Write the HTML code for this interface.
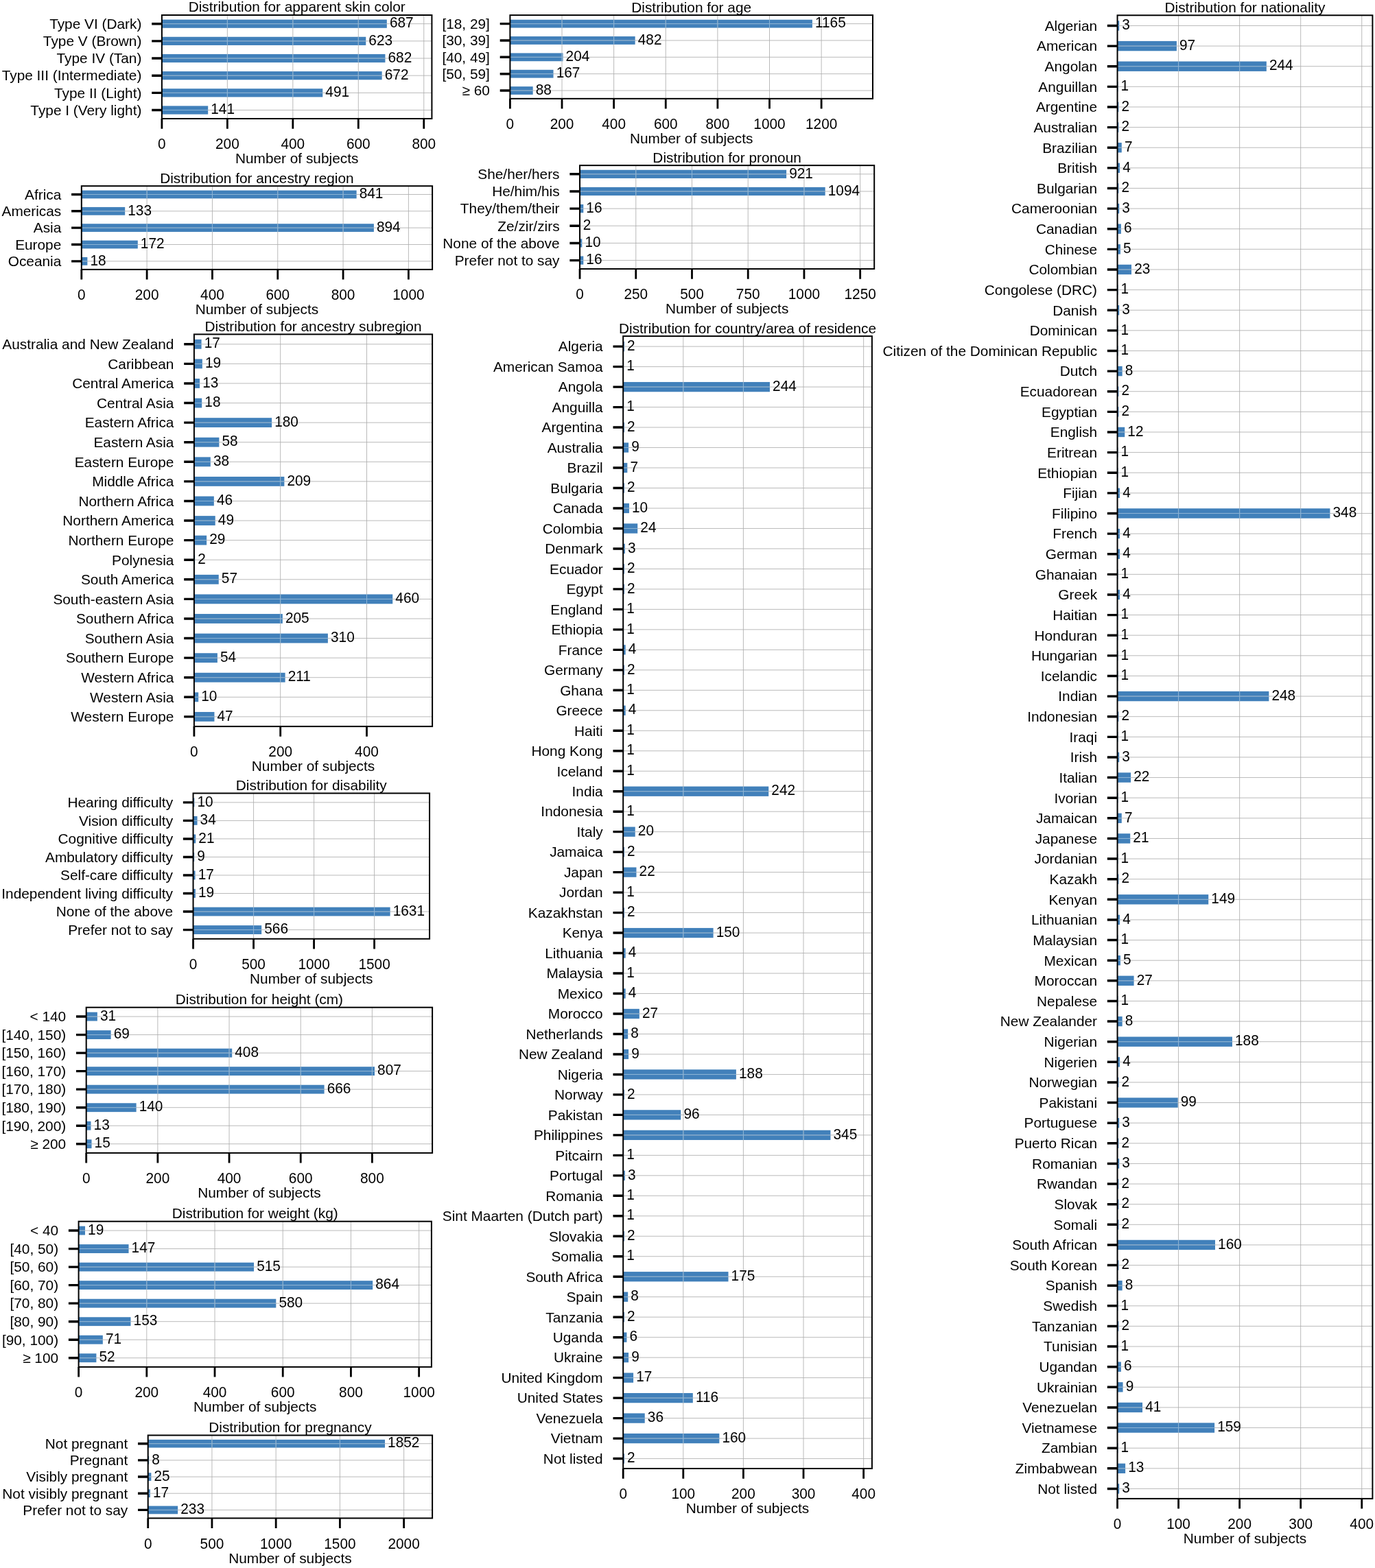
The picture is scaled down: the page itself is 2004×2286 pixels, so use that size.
<!DOCTYPE html>
<html lang="en">
<head>
<meta charset="utf-8">
<title>Distribution of subject attributes</title>
<style>
html,body{margin:0;padding:0;background:#fff;}
body{width:2004px;height:2286px;}
svg{display:block;}
text{font-family:"Liberation Sans",sans-serif;font-size:20.83px;fill:#000;}
.ylab text{text-anchor:end;}
.xlab text{text-anchor:middle;}
.grid{fill:none;stroke:#aeaeae;stroke-width:0.85;}
.gridbar{fill:none;stroke:#86b6de;stroke-width:0.85;}
.tick{fill:none;stroke:#000;stroke-width:3.4;}
.xtick{fill:none;stroke:#000;stroke-width:2.8;}
.spine{fill:none;stroke:#000;stroke-width:2.0;}
</style>
</head>
<body>
<svg width="2004" height="2286" viewBox="0 0 2004 2286">
<rect width="2004" height="2286" fill="#fff"/>

<g class="chart">
<g class="bars" fill="#4180ba">
<rect x="235.9" y="28.58" width="327.92" height="12.21"/>
<rect x="235.9" y="53.75" width="297.37" height="12.21"/>
<rect x="235.9" y="78.91" width="325.53" height="12.21"/>
<rect x="235.9" y="104.08" width="320.76" height="12.21"/>
<rect x="235.9" y="129.25" width="234.36" height="12.21"/>
<rect x="235.9" y="154.41" width="67.3" height="12.21"/>
</g>
<path class="grid" d="M331.36 22V173M426.83 22V173M522.29 22V173M617.75 22V173M235.9 34.68H629.4M235.9 59.85H629.4M235.9 85.02H629.4M235.9 110.18H629.4M235.9 135.35H629.4M235.9 160.52H629.4"/>
<path class="gridbar" d="M235.9 34.68H563.82M331.36 28.58V40.79M426.83 28.58V40.79M522.29 28.58V40.79M235.9 59.85H533.27M331.36 53.75V65.95M426.83 53.75V65.95M522.29 53.75V65.95M235.9 85.02H561.43M331.36 78.91V91.12M426.83 78.91V91.12M522.29 78.91V91.12M235.9 110.18H556.66M331.36 104.08V116.29M426.83 104.08V116.29M522.29 104.08V116.29M235.9 135.35H470.26M331.36 129.25V141.45M426.83 129.25V141.45M235.9 160.52H303.2"/>
<path class="xtick" d="M235.9 173v14.7M331.36 173v14.7M426.83 173v14.7M522.29 173v14.7M617.75 173v14.7"/>
<path class="tick" d="M235.9 34.68h-14.7M235.9 59.85h-14.7M235.9 85.02h-14.7M235.9 110.18h-14.7M235.9 135.35h-14.7M235.9 160.52h-14.7"/>
<rect class="spine" x="235.9" y="22" width="393.5" height="151"/>
<g class="val" transform="scale(1,1.03)">
<text x="567.92" y="39.21">687</text>
<text x="537.37" y="63.64">623</text>
<text x="565.53" y="88.07">682</text>
<text x="560.76" y="112.51">672</text>
<text x="474.36" y="136.94">491</text>
<text x="307.3" y="161.38">141</text>
</g>
<g class="ylab">
<text x="206.4" y="41.98">Type VI (Dark)</text>
<text x="206.4" y="67.15">Type V (Brown)</text>
<text x="206.4" y="92.32">Type IV (Tan)</text>
<text x="206.4" y="117.48">Type III (Intermediate)</text>
<text x="206.4" y="142.65">Type II (Light)</text>
<text x="206.4" y="167.82">Type I (Very light)</text>
</g>
<g class="xlab" transform="scale(1,1.03)">
<text x="235.9" y="211.07">0</text>
<text x="331.36" y="211.07">200</text>
<text x="426.83" y="211.07">400</text>
<text x="522.29" y="211.07">600</text>
<text x="617.75" y="211.07">800</text>
</g>
<g class="xlab">
<text x="432.65" y="238.3">Number of subjects</text>
<text x="432.65" y="17.4">Distribution for apparent skin color</text>
</g>
</g>
<g class="chart">
<g class="bars" fill="#4180ba">
<rect x="118.8" y="277.57" width="400.82" height="11.8"/>
<rect x="118.8" y="301.91" width="63.39" height="11.8"/>
<rect x="118.8" y="326.25" width="426.08" height="11.8"/>
<rect x="118.8" y="350.59" width="81.98" height="11.8"/>
<rect x="118.8" y="374.93" width="8.58" height="11.8"/>
</g>
<path class="grid" d="M214.12 271.2V392.9M309.44 271.2V392.9M404.76 271.2V392.9M500.08 271.2V392.9M595.4 271.2V392.9M118.8 283.47H630.1M118.8 307.81H630.1M118.8 332.15H630.1M118.8 356.49H630.1M118.8 380.83H630.1"/>
<path class="gridbar" d="M118.8 283.47H519.62M214.12 277.57V289.37M309.44 277.57V289.37M404.76 277.57V289.37M500.08 277.57V289.37M118.8 307.81H182.19M118.8 332.15H544.88M214.12 326.25V338.05M309.44 326.25V338.05M404.76 326.25V338.05M500.08 326.25V338.05M118.8 356.49H200.78M118.8 380.83H127.38"/>
<path class="xtick" d="M118.8 392.9v14.7M214.12 392.9v14.7M309.44 392.9v14.7M404.76 392.9v14.7M500.08 392.9v14.7M595.4 392.9v14.7"/>
<path class="tick" d="M118.8 283.47h-14.7M118.8 307.81h-14.7M118.8 332.15h-14.7M118.8 356.49h-14.7M118.8 380.83h-14.7"/>
<rect class="spine" x="118.8" y="271.2" width="511.3" height="121.7"/>
<g class="val" transform="scale(1,1.03)">
<text x="523.72" y="280.75">841</text>
<text x="186.29" y="304.38">133</text>
<text x="548.98" y="328.01">894</text>
<text x="204.88" y="351.64">172</text>
<text x="131.48" y="375.27">18</text>
</g>
<g class="ylab">
<text x="89.3" y="290.77">Africa</text>
<text x="89.3" y="315.11">Americas</text>
<text x="89.3" y="339.45">Asia</text>
<text x="89.3" y="363.79">Europe</text>
<text x="89.3" y="388.13">Oceania</text>
</g>
<g class="xlab" transform="scale(1,1.03)">
<text x="118.8" y="424.56">0</text>
<text x="214.12" y="424.56">200</text>
<text x="309.44" y="424.56">400</text>
<text x="404.76" y="424.56">600</text>
<text x="500.08" y="424.56">800</text>
<text x="595.4" y="424.56">1000</text>
</g>
<g class="xlab">
<text x="374.45" y="458.2">Number of subjects</text>
<text x="374.45" y="266.6">Distribution for ancestry region</text>
</g>
</g>
<g class="chart">
<g class="bars" fill="#4180ba">
<rect x="743.4" y="28.72" width="440.5" height="11.81"/>
<rect x="743.4" y="53.07" width="182.25" height="11.81"/>
<rect x="743.4" y="77.42" width="77.13" height="11.81"/>
<rect x="743.4" y="101.77" width="63.14" height="11.81"/>
<rect x="743.4" y="126.12" width="33.27" height="11.81"/>
</g>
<path class="grid" d="M819.02 22.1V143.85M894.64 22.1V143.85M970.27 22.1V143.85M1045.89 22.1V143.85M1121.51 22.1V143.85M1197.13 22.1V143.85M743.4 34.63H1272M743.4 58.98H1272M743.4 83.32H1272M743.4 107.68H1272M743.4 132.03H1272"/>
<path class="gridbar" d="M743.4 34.63H1183.9M819.02 28.72V40.53M894.64 28.72V40.53M970.27 28.72V40.53M1045.89 28.72V40.53M1121.51 28.72V40.53M743.4 58.98H925.65M819.02 53.07V64.88M894.64 53.07V64.88M743.4 83.32H820.53M819.02 77.42V89.23M743.4 107.68H806.54M743.4 132.03H776.67"/>
<path class="xtick" d="M743.4 143.85v14.7M819.02 143.85v14.7M894.64 143.85v14.7M970.27 143.85v14.7M1045.89 143.85v14.7M1121.51 143.85v14.7M1197.13 143.85v14.7"/>
<path class="tick" d="M743.4 34.63h-14.7M743.4 58.98h-14.7M743.4 83.32h-14.7M743.4 107.68h-14.7M743.4 132.03h-14.7"/>
<rect class="spine" x="743.4" y="22.1" width="528.6" height="121.75"/>
<g class="val" transform="scale(1,1.03)">
<text x="1188" y="39.15">1165</text>
<text x="929.75" y="62.79">482</text>
<text x="824.63" y="86.43">204</text>
<text x="810.64" y="110.07">167</text>
<text x="780.77" y="133.71">88</text>
</g>
<g class="ylab">
<text x="713.9" y="41.93">[18, 29]</text>
<text x="713.9" y="66.28">[30, 39]</text>
<text x="713.9" y="90.62">[40, 49]</text>
<text x="713.9" y="114.98">[50, 59]</text>
<text x="713.9" y="139.33">≥ 60</text>
</g>
<g class="xlab" transform="scale(1,1.03)">
<text x="743.4" y="182.77">0</text>
<text x="819.02" y="182.77">200</text>
<text x="894.64" y="182.77">400</text>
<text x="970.27" y="182.77">600</text>
<text x="1045.89" y="182.77">800</text>
<text x="1121.51" y="182.77">1000</text>
<text x="1197.13" y="182.77">1200</text>
</g>
<g class="xlab">
<text x="1007.7" y="209.15">Number of subjects</text>
<text x="1007.7" y="17.5">Distribution for age</text>
</g>
</g>
<g class="chart">
<g class="bars" fill="#4180ba">
<rect x="845.05" y="247.73" width="301.07" height="12.2"/>
<rect x="845.05" y="272.88" width="357.63" height="12.2"/>
<rect x="845.05" y="298.03" width="5.23" height="12.2"/>
<rect x="845.05" y="323.18" width="0.65" height="12.2"/>
<rect x="845.05" y="348.33" width="3.27" height="12.2"/>
<rect x="845.05" y="373.48" width="5.23" height="12.2"/>
</g>
<path class="grid" d="M926.77 241.15V392.05M1008.5 241.15V392.05M1090.22 241.15V392.05M1171.95 241.15V392.05M1253.67 241.15V392.05M845.05 253.82H1274.2M845.05 278.98H1274.2M845.05 304.13H1274.2M845.05 329.28H1274.2M845.05 354.43H1274.2M845.05 379.58H1274.2"/>
<path class="gridbar" d="M845.05 253.82H1146.12M926.77 247.73V259.92M1008.5 247.73V259.92M1090.22 247.73V259.92M845.05 278.98H1202.68M926.77 272.88V285.07M1008.5 272.88V285.07M1090.22 272.88V285.07M1171.95 272.88V285.07M845.05 304.13H850.28M845.05 329.28H845.7M845.05 354.43H848.32M845.05 379.58H850.28"/>
<path class="xtick" d="M845.05 392.05v14.7M926.77 392.05v14.7M1008.5 392.05v14.7M1090.22 392.05v14.7M1171.95 392.05v14.7M1253.67 392.05v14.7"/>
<path class="tick" d="M845.05 253.82h-14.7M845.05 278.98h-14.7M845.05 304.13h-14.7M845.05 329.28h-14.7M845.05 354.43h-14.7M845.05 379.58h-14.7"/>
<rect class="spine" x="845.05" y="241.15" width="429.15" height="150.9"/>
<g class="val" transform="scale(1,1.03)">
<text x="1150.22" y="251.97">921</text>
<text x="1206.78" y="276.38">1094</text>
<text x="854.38" y="300.8">16</text>
<text x="849.8" y="325.22">2</text>
<text x="852.42" y="349.64">10</text>
<text x="854.38" y="374.05">16</text>
</g>
<g class="ylab">
<text x="815.55" y="261.12">She/her/hers</text>
<text x="815.55" y="286.28">He/him/his</text>
<text x="815.55" y="311.43">They/them/their</text>
<text x="815.55" y="336.58">Ze/zir/zirs</text>
<text x="815.55" y="361.73">None of the above</text>
<text x="815.55" y="386.88">Prefer not to say</text>
</g>
<g class="xlab" transform="scale(1,1.03)">
<text x="845.05" y="423.74">0</text>
<text x="926.77" y="423.74">250</text>
<text x="1008.5" y="423.74">500</text>
<text x="1090.22" y="423.74">750</text>
<text x="1171.95" y="423.74">1000</text>
<text x="1253.67" y="423.74">1250</text>
</g>
<g class="xlab">
<text x="1059.62" y="457.35">Number of subjects</text>
<text x="1059.62" y="236.55">Distribution for pronoun</text>
</g>
</g>
<g class="chart">
<g class="bars" fill="#4180ba">
<rect x="282.9" y="494.86" width="10.69" height="13.86"/>
<rect x="282.9" y="523.45" width="11.95" height="13.86"/>
<rect x="282.9" y="552.03" width="8.18" height="13.86"/>
<rect x="282.9" y="580.62" width="11.32" height="13.86"/>
<rect x="282.9" y="609.2" width="113.22" height="13.86"/>
<rect x="282.9" y="637.79" width="36.48" height="13.86"/>
<rect x="282.9" y="666.37" width="23.9" height="13.86"/>
<rect x="282.9" y="694.96" width="131.46" height="13.86"/>
<rect x="282.9" y="723.54" width="28.93" height="13.86"/>
<rect x="282.9" y="752.13" width="30.82" height="13.86"/>
<rect x="282.9" y="780.71" width="18.24" height="13.86"/>
<rect x="282.9" y="809.3" width="1.26" height="13.86"/>
<rect x="282.9" y="837.88" width="35.85" height="13.86"/>
<rect x="282.9" y="866.47" width="289.33" height="13.86"/>
<rect x="282.9" y="895.05" width="128.94" height="13.86"/>
<rect x="282.9" y="923.64" width="194.99" height="13.86"/>
<rect x="282.9" y="952.22" width="33.97" height="13.86"/>
<rect x="282.9" y="980.81" width="132.72" height="13.86"/>
<rect x="282.9" y="1009.39" width="6.29" height="13.86"/>
<rect x="282.9" y="1037.98" width="29.56" height="13.86"/>
</g>
<path class="grid" d="M408.7 487.4V1059.1M534.49 487.4V1059.1M282.9 501.79H630.1M282.9 530.38H630.1M282.9 558.96H630.1M282.9 587.55H630.1M282.9 616.13H630.1M282.9 644.72H630.1M282.9 673.3H630.1M282.9 701.89H630.1M282.9 730.47H630.1M282.9 759.06H630.1M282.9 787.64H630.1M282.9 816.23H630.1M282.9 844.81H630.1M282.9 873.4H630.1M282.9 901.98H630.1M282.9 930.57H630.1M282.9 959.15H630.1M282.9 987.74H630.1M282.9 1016.32H630.1M282.9 1044.91H630.1"/>
<path class="gridbar" d="M282.9 501.79H293.59M282.9 530.38H294.85M282.9 558.96H291.08M282.9 587.55H294.22M282.9 616.13H396.12M282.9 644.72H319.38M282.9 673.3H306.8M282.9 701.89H414.36M408.7 694.96V708.82M282.9 730.47H311.83M282.9 759.06H313.72M282.9 787.64H301.14M282.9 816.23H284.16M282.9 844.81H318.75M282.9 873.4H572.23M408.7 866.47V880.33M534.49 866.47V880.33M282.9 901.98H411.84M408.7 895.05V908.91M282.9 930.57H477.89M408.7 923.64V937.5M282.9 959.15H316.87M282.9 987.74H415.62M408.7 980.81V994.67M282.9 1016.32H289.19M282.9 1044.91H312.46"/>
<path class="xtick" d="M282.9 1059.1v14.7M408.7 1059.1v14.7M534.49 1059.1v14.7"/>
<path class="tick" d="M282.9 501.79h-14.7M282.9 530.38h-14.7M282.9 558.96h-14.7M282.9 587.55h-14.7M282.9 616.13h-14.7M282.9 644.72h-14.7M282.9 673.3h-14.7M282.9 701.89h-14.7M282.9 730.47h-14.7M282.9 759.06h-14.7M282.9 787.64h-14.7M282.9 816.23h-14.7M282.9 844.81h-14.7M282.9 873.4h-14.7M282.9 901.98h-14.7M282.9 930.57h-14.7M282.9 959.15h-14.7M282.9 987.74h-14.7M282.9 1016.32h-14.7M282.9 1044.91h-14.7"/>
<rect class="spine" x="282.9" y="487.4" width="347.2" height="571.7"/>
<g class="val" transform="scale(1,1.03)">
<text x="297.69" y="492.71">17</text>
<text x="298.95" y="520.46">19</text>
<text x="295.18" y="548.22">13</text>
<text x="298.32" y="575.97">18</text>
<text x="400.22" y="603.72">180</text>
<text x="323.48" y="631.47">58</text>
<text x="310.9" y="659.23">38</text>
<text x="418.46" y="686.98">209</text>
<text x="315.93" y="714.73">46</text>
<text x="317.82" y="742.48">49</text>
<text x="305.24" y="770.24">29</text>
<text x="288.26" y="797.99">2</text>
<text x="322.85" y="825.74">57</text>
<text x="576.33" y="853.49">460</text>
<text x="415.94" y="881.25">205</text>
<text x="481.99" y="909">310</text>
<text x="320.97" y="936.75">54</text>
<text x="419.72" y="964.5">211</text>
<text x="293.29" y="992.25">10</text>
<text x="316.56" y="1020.01">47</text>
</g>
<g class="ylab">
<text x="253.4" y="509.09">Australia and New Zealand</text>
<text x="253.4" y="537.68">Caribbean</text>
<text x="253.4" y="566.26">Central America</text>
<text x="253.4" y="594.85">Central Asia</text>
<text x="253.4" y="623.43">Eastern Africa</text>
<text x="253.4" y="652.02">Eastern Asia</text>
<text x="253.4" y="680.6">Eastern Europe</text>
<text x="253.4" y="709.19">Middle Africa</text>
<text x="253.4" y="737.77">Northern Africa</text>
<text x="253.4" y="766.36">Northern America</text>
<text x="253.4" y="794.94">Northern Europe</text>
<text x="253.4" y="823.53">Polynesia</text>
<text x="253.4" y="852.11">South America</text>
<text x="253.4" y="880.7">South-eastern Asia</text>
<text x="253.4" y="909.28">Southern Africa</text>
<text x="253.4" y="937.87">Southern Asia</text>
<text x="253.4" y="966.45">Southern Europe</text>
<text x="253.4" y="995.04">Western Africa</text>
<text x="253.4" y="1023.62">Western Asia</text>
<text x="253.4" y="1052.21">Western Europe</text>
</g>
<g class="xlab" transform="scale(1,1.03)">
<text x="282.9" y="1071.36">0</text>
<text x="408.7" y="1071.36">200</text>
<text x="534.49" y="1071.36">400</text>
</g>
<g class="xlab">
<text x="456.5" y="1124.4">Number of subjects</text>
<text x="456.5" y="482.8">Distribution for ancestry subregion</text>
</g>
</g>
<g class="chart">
<g class="bars" fill="#4180ba">
<rect x="281.55" y="1163.43" width="1.76" height="12.87"/>
<rect x="281.55" y="1189.96" width="5.98" height="12.87"/>
<rect x="281.55" y="1216.49" width="3.7" height="12.87"/>
<rect x="281.55" y="1243.03" width="1.58" height="12.87"/>
<rect x="281.55" y="1269.56" width="2.99" height="12.87"/>
<rect x="281.55" y="1296.09" width="3.34" height="12.87"/>
<rect x="281.55" y="1322.62" width="287.08" height="12.87"/>
<rect x="281.55" y="1349.15" width="99.63" height="12.87"/>
</g>
<path class="grid" d="M369.56 1156.5V1368.75M457.57 1156.5V1368.75M545.58 1156.5V1368.75M281.55 1169.87H626.05M281.55 1196.4H626.05M281.55 1222.93H626.05M281.55 1249.46H626.05M281.55 1275.99H626.05M281.55 1302.52H626.05M281.55 1329.05H626.05M281.55 1355.58H626.05"/>
<path class="gridbar" d="M281.55 1169.87H283.31M281.55 1196.4H287.53M281.55 1222.93H285.25M281.55 1249.46H283.13M281.55 1275.99H284.54M281.55 1302.52H284.89M281.55 1329.05H568.63M369.56 1322.62V1335.49M457.57 1322.62V1335.49M545.58 1322.62V1335.49M281.55 1355.58H381.18M369.56 1349.15V1362.02"/>
<path class="xtick" d="M281.55 1368.75v14.7M369.56 1368.75v14.7M457.57 1368.75v14.7M545.58 1368.75v14.7"/>
<path class="tick" d="M281.55 1169.87h-14.7M281.55 1196.4h-14.7M281.55 1222.93h-14.7M281.55 1249.46h-14.7M281.55 1275.99h-14.7M281.55 1302.52h-14.7M281.55 1329.05h-14.7M281.55 1355.58h-14.7"/>
<rect class="spine" x="281.55" y="1156.5" width="344.5" height="212.25"/>
<g class="val" transform="scale(1,1.03)">
<text x="287.41" y="1141.33">10</text>
<text x="291.63" y="1167.08">34</text>
<text x="289.35" y="1192.84">21</text>
<text x="287.23" y="1218.6">9</text>
<text x="288.64" y="1244.36">17</text>
<text x="288.99" y="1270.12">19</text>
<text x="572.73" y="1295.88">1631</text>
<text x="385.28" y="1321.64">566</text>
</g>
<g class="ylab">
<text x="252.05" y="1177.17">Hearing difficulty</text>
<text x="252.05" y="1203.7">Vision difficulty</text>
<text x="252.05" y="1230.23">Cognitive difficulty</text>
<text x="252.05" y="1256.76">Ambulatory difficulty</text>
<text x="252.05" y="1283.29">Self-care difficulty</text>
<text x="252.05" y="1309.82">Independent living difficulty</text>
<text x="252.05" y="1336.35">None of the above</text>
<text x="252.05" y="1362.88">Prefer not to say</text>
</g>
<g class="xlab" transform="scale(1,1.03)">
<text x="281.55" y="1371.99">0</text>
<text x="369.56" y="1371.99">500</text>
<text x="457.57" y="1371.99">1000</text>
<text x="545.58" y="1371.99">1500</text>
</g>
<g class="xlab">
<text x="453.8" y="1434.05">Number of subjects</text>
<text x="453.8" y="1151.9">Distribution for disability</text>
</g>
</g>
<g class="chart">
<g class="bars" fill="#4180ba">
<rect x="125.7" y="1475.63" width="16.15" height="12.86"/>
<rect x="125.7" y="1502.16" width="35.94" height="12.86"/>
<rect x="125.7" y="1528.68" width="212.51" height="12.86"/>
<rect x="125.7" y="1555.21" width="420.33" height="12.86"/>
<rect x="125.7" y="1581.73" width="346.89" height="12.86"/>
<rect x="125.7" y="1608.26" width="72.92" height="12.86"/>
<rect x="125.7" y="1634.78" width="6.77" height="12.86"/>
<rect x="125.7" y="1661.31" width="7.81" height="12.86"/>
</g>
<path class="grid" d="M229.87 1468.7V1680.9M334.04 1468.7V1680.9M438.22 1468.7V1680.9M542.39 1468.7V1680.9M125.7 1482.06H630.1M125.7 1508.59H630.1M125.7 1535.11H630.1M125.7 1561.64H630.1M125.7 1588.16H630.1M125.7 1614.69H630.1M125.7 1641.21H630.1M125.7 1667.74H630.1"/>
<path class="gridbar" d="M125.7 1482.06H141.85M125.7 1508.59H161.64M125.7 1535.11H338.21M229.87 1528.68V1541.54M334.04 1528.68V1541.54M125.7 1561.64H546.03M229.87 1555.21V1568.07M334.04 1555.21V1568.07M438.22 1555.21V1568.07M542.39 1555.21V1568.07M125.7 1588.16H472.59M229.87 1581.73V1594.59M334.04 1581.73V1594.59M438.22 1581.73V1594.59M125.7 1614.69H198.62M125.7 1641.21H132.47M125.7 1667.74H133.51"/>
<path class="xtick" d="M125.7 1680.9v14.7M229.87 1680.9v14.7M334.04 1680.9v14.7M438.22 1680.9v14.7M542.39 1680.9v14.7"/>
<path class="tick" d="M125.7 1482.06h-14.7M125.7 1508.59h-14.7M125.7 1535.11h-14.7M125.7 1561.64h-14.7M125.7 1588.16h-14.7M125.7 1614.69h-14.7M125.7 1641.21h-14.7M125.7 1667.74h-14.7"/>
<rect class="spine" x="125.7" y="1468.7" width="504.4" height="212.2"/>
<g class="val" transform="scale(1,1.03)">
<text x="145.95" y="1444.43">31</text>
<text x="165.74" y="1470.18">69</text>
<text x="342.31" y="1495.93">408</text>
<text x="550.13" y="1521.69">807</text>
<text x="476.69" y="1547.44">666</text>
<text x="202.72" y="1573.19">140</text>
<text x="136.57" y="1598.94">13</text>
<text x="137.61" y="1624.7">15</text>
</g>
<g class="ylab">
<text x="96.2" y="1489.36">&lt; 140</text>
<text x="96.2" y="1515.89">[140, 150)</text>
<text x="96.2" y="1542.41">[150, 160)</text>
<text x="96.2" y="1568.94">[160, 170)</text>
<text x="96.2" y="1595.46">[170, 180)</text>
<text x="96.2" y="1621.99">[180, 190)</text>
<text x="96.2" y="1648.51">[190, 200)</text>
<text x="96.2" y="1675.04">≥ 200</text>
</g>
<g class="xlab" transform="scale(1,1.03)">
<text x="125.7" y="1675.05">0</text>
<text x="229.87" y="1675.05">200</text>
<text x="334.04" y="1675.05">400</text>
<text x="438.22" y="1675.05">600</text>
<text x="542.39" y="1675.05">800</text>
</g>
<g class="xlab">
<text x="377.9" y="1746.2">Number of subjects</text>
<text x="377.9" y="1464.1">Distribution for height (cm)</text>
</g>
</g>
<g class="chart">
<g class="bars" fill="#4180ba">
<rect x="114.6" y="1787.63" width="9.42" height="12.86"/>
<rect x="114.6" y="1814.16" width="72.92" height="12.86"/>
<rect x="114.6" y="1840.68" width="255.46" height="12.86"/>
<rect x="114.6" y="1867.21" width="428.58" height="12.86"/>
<rect x="114.6" y="1893.73" width="287.71" height="12.86"/>
<rect x="114.6" y="1920.26" width="75.89" height="12.86"/>
<rect x="114.6" y="1946.78" width="35.22" height="12.86"/>
<rect x="114.6" y="1973.31" width="25.79" height="12.86"/>
</g>
<path class="grid" d="M213.81 1780.7V1992.9M313.02 1780.7V1992.9M412.23 1780.7V1992.9M511.44 1780.7V1992.9M610.65 1780.7V1992.9M114.6 1794.06H628.9M114.6 1820.59H628.9M114.6 1847.11H628.9M114.6 1873.64H628.9M114.6 1900.16H628.9M114.6 1926.69H628.9M114.6 1953.21H628.9M114.6 1979.74H628.9"/>
<path class="gridbar" d="M114.6 1794.06H124.02M114.6 1820.59H187.52M114.6 1847.11H370.06M213.81 1840.68V1853.54M313.02 1840.68V1853.54M114.6 1873.64H543.18M213.81 1867.21V1880.07M313.02 1867.21V1880.07M412.23 1867.21V1880.07M511.44 1867.21V1880.07M114.6 1900.16H402.31M213.81 1893.73V1906.59M313.02 1893.73V1906.59M114.6 1926.69H190.49M114.6 1953.21H149.82M114.6 1979.74H140.39"/>
<path class="xtick" d="M114.6 1992.9v14.7M213.81 1992.9v14.7M313.02 1992.9v14.7M412.23 1992.9v14.7M511.44 1992.9v14.7M610.65 1992.9v14.7"/>
<path class="tick" d="M114.6 1794.06h-14.7M114.6 1820.59h-14.7M114.6 1847.11h-14.7M114.6 1873.64h-14.7M114.6 1900.16h-14.7M114.6 1926.69h-14.7M114.6 1953.21h-14.7M114.6 1979.74h-14.7"/>
<rect class="spine" x="114.6" y="1780.7" width="514.3" height="212.2"/>
<g class="val" transform="scale(1,1.03)">
<text x="128.12" y="1747.34">19</text>
<text x="191.62" y="1773.09">147</text>
<text x="374.16" y="1798.85">515</text>
<text x="547.28" y="1824.6">864</text>
<text x="406.41" y="1850.35">580</text>
<text x="194.59" y="1876.1">153</text>
<text x="153.92" y="1901.86">71</text>
<text x="144.49" y="1927.61">52</text>
</g>
<g class="ylab">
<text x="85.1" y="1801.36">&lt; 40</text>
<text x="85.1" y="1827.89">[40, 50)</text>
<text x="85.1" y="1854.41">[50, 60)</text>
<text x="85.1" y="1880.94">[60, 70)</text>
<text x="85.1" y="1907.46">[70, 80)</text>
<text x="85.1" y="1933.99">[80, 90)</text>
<text x="85.1" y="1960.51">[90, 100)</text>
<text x="85.1" y="1987.04">≥ 100</text>
</g>
<g class="xlab" transform="scale(1,1.03)">
<text x="114.6" y="1977.96">0</text>
<text x="213.81" y="1977.96">200</text>
<text x="313.02" y="1977.96">400</text>
<text x="412.23" y="1977.96">600</text>
<text x="511.44" y="1977.96">800</text>
<text x="610.65" y="1977.96">1000</text>
</g>
<g class="xlab">
<text x="371.75" y="2058.2">Number of subjects</text>
<text x="371.75" y="1776.1">Distribution for weight (kg)</text>
</g>
</g>
<g class="chart">
<g class="bars" fill="#4180ba">
<rect x="215.7" y="2098.83" width="345.33" height="11.73"/>
<rect x="215.7" y="2123.01" width="1.49" height="11.73"/>
<rect x="215.7" y="2147.19" width="4.66" height="11.73"/>
<rect x="215.7" y="2171.37" width="3.17" height="11.73"/>
<rect x="215.7" y="2195.55" width="43.45" height="11.73"/>
</g>
<path class="grid" d="M308.93 2092.5V2213.4M402.17 2092.5V2213.4M495.4 2092.5V2213.4M588.63 2092.5V2213.4M215.7 2104.69H630.1M215.7 2128.87H630.1M215.7 2153.05H630.1M215.7 2177.23H630.1M215.7 2201.41H630.1"/>
<path class="gridbar" d="M215.7 2104.69H561.03M308.93 2098.83V2110.55M402.17 2098.83V2110.55M495.4 2098.83V2110.55M215.7 2128.87H217.19M215.7 2153.05H220.36M215.7 2177.23H218.87M215.7 2201.41H259.15"/>
<path class="xtick" d="M215.7 2213.4v14.7M308.93 2213.4v14.7M402.17 2213.4v14.7M495.4 2213.4v14.7M588.63 2213.4v14.7"/>
<path class="tick" d="M215.7 2104.69h-14.7M215.7 2128.87h-14.7M215.7 2153.05h-14.7M215.7 2177.23h-14.7M215.7 2201.41h-14.7"/>
<rect class="spine" x="215.7" y="2092.5" width="414.4" height="120.9"/>
<g class="val" transform="scale(1,1.03)">
<text x="565.13" y="2048.92">1852</text>
<text x="221.29" y="2072.4">8</text>
<text x="224.46" y="2095.87">25</text>
<text x="222.97" y="2119.35">17</text>
<text x="263.25" y="2142.83">233</text>
</g>
<g class="ylab">
<text x="186.2" y="2111.99">Not pregnant</text>
<text x="186.2" y="2136.17">Pregnant</text>
<text x="186.2" y="2160.35">Visibly pregnant</text>
<text x="186.2" y="2184.53">Not visibly pregnant</text>
<text x="186.2" y="2208.71">Prefer not to say</text>
</g>
<g class="xlab" transform="scale(1,1.03)">
<text x="215.7" y="2192.04">0</text>
<text x="308.93" y="2192.04">500</text>
<text x="402.17" y="2192.04">1000</text>
<text x="495.4" y="2192.04">1500</text>
<text x="588.63" y="2192.04">2000</text>
</g>
<g class="xlab">
<text x="422.9" y="2278.7">Number of subjects</text>
<text x="422.9" y="2087.9">Distribution for pregnancy</text>
</g>
</g>
<g class="chart">
<g class="bars" fill="#4180ba">
<rect x="908.2" y="497.99" width="1.75" height="14.3"/>
<rect x="908.2" y="527.47" width="0.88" height="14.3"/>
<rect x="908.2" y="556.95" width="213.77" height="14.3"/>
<rect x="908.2" y="586.43" width="0.88" height="14.3"/>
<rect x="908.2" y="615.91" width="1.75" height="14.3"/>
<rect x="908.2" y="645.39" width="7.88" height="14.3"/>
<rect x="908.2" y="674.87" width="6.13" height="14.3"/>
<rect x="908.2" y="704.35" width="1.75" height="14.3"/>
<rect x="908.2" y="733.83" width="8.76" height="14.3"/>
<rect x="908.2" y="763.31" width="21.03" height="14.3"/>
<rect x="908.2" y="792.79" width="2.63" height="14.3"/>
<rect x="908.2" y="822.28" width="1.75" height="14.3"/>
<rect x="908.2" y="851.76" width="1.75" height="14.3"/>
<rect x="908.2" y="881.24" width="0.88" height="14.3"/>
<rect x="908.2" y="910.72" width="0.88" height="14.3"/>
<rect x="908.2" y="940.2" width="3.5" height="14.3"/>
<rect x="908.2" y="969.68" width="1.75" height="14.3"/>
<rect x="908.2" y="999.16" width="0.88" height="14.3"/>
<rect x="908.2" y="1028.64" width="3.5" height="14.3"/>
<rect x="908.2" y="1058.12" width="0.88" height="14.3"/>
<rect x="908.2" y="1087.6" width="0.88" height="14.3"/>
<rect x="908.2" y="1117.08" width="0.88" height="14.3"/>
<rect x="908.2" y="1146.56" width="212.01" height="14.3"/>
<rect x="908.2" y="1176.04" width="0.88" height="14.3"/>
<rect x="908.2" y="1205.52" width="17.52" height="14.3"/>
<rect x="908.2" y="1235" width="1.75" height="14.3"/>
<rect x="908.2" y="1264.48" width="19.27" height="14.3"/>
<rect x="908.2" y="1293.96" width="0.88" height="14.3"/>
<rect x="908.2" y="1323.44" width="1.75" height="14.3"/>
<rect x="908.2" y="1352.92" width="131.41" height="14.3"/>
<rect x="908.2" y="1382.4" width="3.5" height="14.3"/>
<rect x="908.2" y="1411.88" width="0.88" height="14.3"/>
<rect x="908.2" y="1441.36" width="3.5" height="14.3"/>
<rect x="908.2" y="1470.84" width="23.65" height="14.3"/>
<rect x="908.2" y="1500.32" width="7.01" height="14.3"/>
<rect x="908.2" y="1529.8" width="7.88" height="14.3"/>
<rect x="908.2" y="1559.28" width="164.7" height="14.3"/>
<rect x="908.2" y="1588.76" width="1.75" height="14.3"/>
<rect x="908.2" y="1618.24" width="84.1" height="14.3"/>
<rect x="908.2" y="1647.73" width="302.25" height="14.3"/>
<rect x="908.2" y="1677.21" width="0.88" height="14.3"/>
<rect x="908.2" y="1706.69" width="2.63" height="14.3"/>
<rect x="908.2" y="1736.17" width="0.88" height="14.3"/>
<rect x="908.2" y="1765.65" width="0.88" height="14.3"/>
<rect x="908.2" y="1795.13" width="1.75" height="14.3"/>
<rect x="908.2" y="1824.61" width="0.88" height="14.3"/>
<rect x="908.2" y="1854.09" width="153.32" height="14.3"/>
<rect x="908.2" y="1883.57" width="7.01" height="14.3"/>
<rect x="908.2" y="1913.05" width="1.75" height="14.3"/>
<rect x="908.2" y="1942.53" width="5.26" height="14.3"/>
<rect x="908.2" y="1972.01" width="7.88" height="14.3"/>
<rect x="908.2" y="2001.49" width="14.89" height="14.3"/>
<rect x="908.2" y="2030.97" width="101.63" height="14.3"/>
<rect x="908.2" y="2060.45" width="31.54" height="14.3"/>
<rect x="908.2" y="2089.93" width="140.17" height="14.3"/>
<rect x="908.2" y="2119.41" width="1.75" height="14.3"/>
</g>
<path class="grid" d="M995.81 490.1V2141M1083.42 490.1V2141M1171.03 490.1V2141M1258.63 490.1V2141M908.2 505.14H1270.9M908.2 534.62H1270.9M908.2 564.1H1270.9M908.2 593.58H1270.9M908.2 623.06H1270.9M908.2 652.54H1270.9M908.2 682.02H1270.9M908.2 711.5H1270.9M908.2 740.98H1270.9M908.2 770.46H1270.9M908.2 799.94H1270.9M908.2 829.42H1270.9M908.2 858.9H1270.9M908.2 888.38H1270.9M908.2 917.87H1270.9M908.2 947.35H1270.9M908.2 976.83H1270.9M908.2 1006.31H1270.9M908.2 1035.79H1270.9M908.2 1065.27H1270.9M908.2 1094.75H1270.9M908.2 1124.23H1270.9M908.2 1153.71H1270.9M908.2 1183.19H1270.9M908.2 1212.67H1270.9M908.2 1242.15H1270.9M908.2 1271.63H1270.9M908.2 1301.11H1270.9M908.2 1330.59H1270.9M908.2 1360.07H1270.9M908.2 1389.55H1270.9M908.2 1419.03H1270.9M908.2 1448.51H1270.9M908.2 1477.99H1270.9M908.2 1507.47H1270.9M908.2 1536.95H1270.9M908.2 1566.43H1270.9M908.2 1595.91H1270.9M908.2 1625.39H1270.9M908.2 1654.87H1270.9M908.2 1684.35H1270.9M908.2 1713.83H1270.9M908.2 1743.32H1270.9M908.2 1772.8H1270.9M908.2 1802.28H1270.9M908.2 1831.76H1270.9M908.2 1861.24H1270.9M908.2 1890.72H1270.9M908.2 1920.2H1270.9M908.2 1949.68H1270.9M908.2 1979.16H1270.9M908.2 2008.64H1270.9M908.2 2038.12H1270.9M908.2 2067.6H1270.9M908.2 2097.08H1270.9M908.2 2126.56H1270.9"/>
<path class="gridbar" d="M908.2 505.14H909.95M908.2 534.62H909.08M908.2 564.1H1121.97M995.81 556.95V571.25M1083.42 556.95V571.25M908.2 593.58H909.08M908.2 623.06H909.95M908.2 652.54H916.08M908.2 682.02H914.33M908.2 711.5H909.95M908.2 740.98H916.96M908.2 770.46H929.23M908.2 799.94H910.83M908.2 829.42H909.95M908.2 858.9H909.95M908.2 888.38H909.08M908.2 917.87H909.08M908.2 947.35H911.7M908.2 976.83H909.95M908.2 1006.31H909.08M908.2 1035.79H911.7M908.2 1065.27H909.08M908.2 1094.75H909.08M908.2 1124.23H909.08M908.2 1153.71H1120.21M995.81 1146.56V1160.86M1083.42 1146.56V1160.86M908.2 1183.19H909.08M908.2 1212.67H925.72M908.2 1242.15H909.95M908.2 1271.63H927.47M908.2 1301.11H909.08M908.2 1330.59H909.95M908.2 1360.07H1039.61M995.81 1352.92V1367.22M908.2 1389.55H911.7M908.2 1419.03H909.08M908.2 1448.51H911.7M908.2 1477.99H931.85M908.2 1507.47H915.21M908.2 1536.95H916.08M908.2 1566.43H1072.9M995.81 1559.28V1573.58M908.2 1595.91H909.95M908.2 1625.39H992.3M908.2 1654.87H1210.45M995.81 1647.73V1662.02M1083.42 1647.73V1662.02M1171.03 1647.73V1662.02M908.2 1684.35H909.08M908.2 1713.83H910.83M908.2 1743.32H909.08M908.2 1772.8H909.08M908.2 1802.28H909.95M908.2 1831.76H909.08M908.2 1861.24H1061.52M995.81 1854.09V1868.39M908.2 1890.72H915.21M908.2 1920.2H909.95M908.2 1949.68H913.46M908.2 1979.16H916.08M908.2 2008.64H923.09M908.2 2038.12H1009.83M995.81 2030.97V2045.27M908.2 2067.6H939.74M908.2 2097.08H1048.37M995.81 2089.93V2104.23M908.2 2126.56H909.95"/>
<path class="xtick" d="M908.2 2141v14.7M995.81 2141v14.7M1083.42 2141v14.7M1171.03 2141v14.7M1258.63 2141v14.7"/>
<path class="tick" d="M908.2 505.14h-14.7M908.2 534.62h-14.7M908.2 564.1h-14.7M908.2 593.58h-14.7M908.2 623.06h-14.7M908.2 652.54h-14.7M908.2 682.02h-14.7M908.2 711.5h-14.7M908.2 740.98h-14.7M908.2 770.46h-14.7M908.2 799.94h-14.7M908.2 829.42h-14.7M908.2 858.9h-14.7M908.2 888.38h-14.7M908.2 917.87h-14.7M908.2 947.35h-14.7M908.2 976.83h-14.7M908.2 1006.31h-14.7M908.2 1035.79h-14.7M908.2 1065.27h-14.7M908.2 1094.75h-14.7M908.2 1124.23h-14.7M908.2 1153.71h-14.7M908.2 1183.19h-14.7M908.2 1212.67h-14.7M908.2 1242.15h-14.7M908.2 1271.63h-14.7M908.2 1301.11h-14.7M908.2 1330.59h-14.7M908.2 1360.07h-14.7M908.2 1389.55h-14.7M908.2 1419.03h-14.7M908.2 1448.51h-14.7M908.2 1477.99h-14.7M908.2 1507.47h-14.7M908.2 1536.95h-14.7M908.2 1566.43h-14.7M908.2 1595.91h-14.7M908.2 1625.39h-14.7M908.2 1654.87h-14.7M908.2 1684.35h-14.7M908.2 1713.83h-14.7M908.2 1743.32h-14.7M908.2 1772.8h-14.7M908.2 1802.28h-14.7M908.2 1831.76h-14.7M908.2 1861.24h-14.7M908.2 1890.72h-14.7M908.2 1920.2h-14.7M908.2 1949.68h-14.7M908.2 1979.16h-14.7M908.2 2008.64h-14.7M908.2 2038.12h-14.7M908.2 2067.6h-14.7M908.2 2097.08h-14.7M908.2 2126.56h-14.7"/>
<rect class="spine" x="908.2" y="490.1" width="362.7" height="1650.9"/>
<g class="val" transform="scale(1,1.03)">
<text x="914.05" y="495.96">2</text>
<text x="913.18" y="524.58">1</text>
<text x="1126.07" y="553.2">244</text>
<text x="913.18" y="581.83">1</text>
<text x="914.05" y="610.45">2</text>
<text x="920.18" y="639.07">9</text>
<text x="918.43" y="667.69">7</text>
<text x="914.05" y="696.31">2</text>
<text x="921.06" y="724.93">10</text>
<text x="933.33" y="753.56">24</text>
<text x="914.93" y="782.18">3</text>
<text x="914.05" y="810.8">2</text>
<text x="914.05" y="839.42">2</text>
<text x="913.18" y="868.04">1</text>
<text x="913.18" y="896.67">1</text>
<text x="915.8" y="925.29">4</text>
<text x="914.05" y="953.91">2</text>
<text x="913.18" y="982.53">1</text>
<text x="915.8" y="1011.15">4</text>
<text x="913.18" y="1039.77">1</text>
<text x="913.18" y="1068.4">1</text>
<text x="913.18" y="1097.02">1</text>
<text x="1124.31" y="1125.64">242</text>
<text x="913.18" y="1154.26">1</text>
<text x="929.82" y="1182.88">20</text>
<text x="914.05" y="1211.5">2</text>
<text x="931.57" y="1240.13">22</text>
<text x="913.18" y="1268.75">1</text>
<text x="914.05" y="1297.37">2</text>
<text x="1043.71" y="1325.99">150</text>
<text x="915.8" y="1354.61">4</text>
<text x="913.18" y="1383.23">1</text>
<text x="915.8" y="1411.86">4</text>
<text x="935.95" y="1440.48">27</text>
<text x="919.31" y="1469.1">8</text>
<text x="920.18" y="1497.72">9</text>
<text x="1077" y="1526.34">188</text>
<text x="914.05" y="1554.96">2</text>
<text x="996.4" y="1583.59">96</text>
<text x="1214.55" y="1612.21">345</text>
<text x="913.18" y="1640.83">1</text>
<text x="914.93" y="1669.45">3</text>
<text x="913.18" y="1698.07">1</text>
<text x="913.18" y="1726.69">1</text>
<text x="914.05" y="1755.32">2</text>
<text x="913.18" y="1783.94">1</text>
<text x="1065.62" y="1812.56">175</text>
<text x="919.31" y="1841.18">8</text>
<text x="914.05" y="1869.8">2</text>
<text x="917.56" y="1898.42">6</text>
<text x="920.18" y="1927.05">9</text>
<text x="927.19" y="1955.67">17</text>
<text x="1013.93" y="1984.29">116</text>
<text x="943.84" y="2012.91">36</text>
<text x="1052.47" y="2041.53">160</text>
<text x="914.05" y="2070.16">2</text>
</g>
<g class="ylab">
<text x="878.7" y="512.44">Algeria</text>
<text x="878.7" y="541.92">American Samoa</text>
<text x="878.7" y="571.4">Angola</text>
<text x="878.7" y="600.88">Anguilla</text>
<text x="878.7" y="630.36">Argentina</text>
<text x="878.7" y="659.84">Australia</text>
<text x="878.7" y="689.32">Brazil</text>
<text x="878.7" y="718.8">Bulgaria</text>
<text x="878.7" y="748.28">Canada</text>
<text x="878.7" y="777.76">Colombia</text>
<text x="878.7" y="807.24">Denmark</text>
<text x="878.7" y="836.72">Ecuador</text>
<text x="878.7" y="866.2">Egypt</text>
<text x="878.7" y="895.68">England</text>
<text x="878.7" y="925.17">Ethiopia</text>
<text x="878.7" y="954.65">France</text>
<text x="878.7" y="984.13">Germany</text>
<text x="878.7" y="1013.61">Ghana</text>
<text x="878.7" y="1043.09">Greece</text>
<text x="878.7" y="1072.57">Haiti</text>
<text x="878.7" y="1102.05">Hong Kong</text>
<text x="878.7" y="1131.53">Iceland</text>
<text x="878.7" y="1161.01">India</text>
<text x="878.7" y="1190.49">Indonesia</text>
<text x="878.7" y="1219.97">Italy</text>
<text x="878.7" y="1249.45">Jamaica</text>
<text x="878.7" y="1278.93">Japan</text>
<text x="878.7" y="1308.41">Jordan</text>
<text x="878.7" y="1337.89">Kazakhstan</text>
<text x="878.7" y="1367.37">Kenya</text>
<text x="878.7" y="1396.85">Lithuania</text>
<text x="878.7" y="1426.33">Malaysia</text>
<text x="878.7" y="1455.81">Mexico</text>
<text x="878.7" y="1485.29">Morocco</text>
<text x="878.7" y="1514.77">Netherlands</text>
<text x="878.7" y="1544.25">New Zealand</text>
<text x="878.7" y="1573.73">Nigeria</text>
<text x="878.7" y="1603.21">Norway</text>
<text x="878.7" y="1632.69">Pakistan</text>
<text x="878.7" y="1662.17">Philippines</text>
<text x="878.7" y="1691.65">Pitcairn</text>
<text x="878.7" y="1721.13">Portugal</text>
<text x="878.7" y="1750.62">Romania</text>
<text x="878.7" y="1780.1">Sint Maarten (Dutch part)</text>
<text x="878.7" y="1809.58">Slovakia</text>
<text x="878.7" y="1839.06">Somalia</text>
<text x="878.7" y="1868.54">South Africa</text>
<text x="878.7" y="1898.02">Spain</text>
<text x="878.7" y="1927.5">Tanzania</text>
<text x="878.7" y="1956.98">Uganda</text>
<text x="878.7" y="1986.46">Ukraine</text>
<text x="878.7" y="2015.94">United Kingdom</text>
<text x="878.7" y="2045.42">United States</text>
<text x="878.7" y="2074.9">Venezuela</text>
<text x="878.7" y="2104.38">Vietnam</text>
<text x="878.7" y="2133.86">Not listed</text>
</g>
<g class="xlab" transform="scale(1,1.03)">
<text x="908.2" y="2121.75">0</text>
<text x="995.81" y="2121.75">100</text>
<text x="1083.42" y="2121.75">200</text>
<text x="1171.03" y="2121.75">300</text>
<text x="1258.63" y="2121.75">400</text>
</g>
<g class="xlab">
<text x="1089.55" y="2206.3">Number of subjects</text>
<text x="1089.55" y="485.5">Distribution for country/area of residence</text>
</g>
</g>
<g class="chart">
<g class="bars" fill="#4180ba">
<rect x="1628.55" y="30.28" width="2.67" height="14.37"/>
<rect x="1628.55" y="59.9" width="86.37" height="14.37"/>
<rect x="1628.55" y="89.53" width="217.27" height="14.37"/>
<rect x="1628.55" y="119.15" width="0.89" height="14.37"/>
<rect x="1628.55" y="148.78" width="1.78" height="14.37"/>
<rect x="1628.55" y="178.4" width="1.78" height="14.37"/>
<rect x="1628.55" y="208.03" width="6.23" height="14.37"/>
<rect x="1628.55" y="237.65" width="3.56" height="14.37"/>
<rect x="1628.55" y="267.28" width="1.78" height="14.37"/>
<rect x="1628.55" y="296.9" width="2.67" height="14.37"/>
<rect x="1628.55" y="326.52" width="5.34" height="14.37"/>
<rect x="1628.55" y="356.15" width="4.45" height="14.37"/>
<rect x="1628.55" y="385.77" width="20.48" height="14.37"/>
<rect x="1628.55" y="415.4" width="0.89" height="14.37"/>
<rect x="1628.55" y="445.02" width="2.67" height="14.37"/>
<rect x="1628.55" y="474.65" width="0.89" height="14.37"/>
<rect x="1628.55" y="504.27" width="0.89" height="14.37"/>
<rect x="1628.55" y="533.9" width="7.12" height="14.37"/>
<rect x="1628.55" y="563.52" width="1.78" height="14.37"/>
<rect x="1628.55" y="593.15" width="1.78" height="14.37"/>
<rect x="1628.55" y="622.77" width="10.69" height="14.37"/>
<rect x="1628.55" y="652.4" width="0.89" height="14.37"/>
<rect x="1628.55" y="682.02" width="0.89" height="14.37"/>
<rect x="1628.55" y="711.65" width="3.56" height="14.37"/>
<rect x="1628.55" y="741.27" width="309.88" height="14.37"/>
<rect x="1628.55" y="770.89" width="3.56" height="14.37"/>
<rect x="1628.55" y="800.52" width="3.56" height="14.37"/>
<rect x="1628.55" y="830.14" width="0.89" height="14.37"/>
<rect x="1628.55" y="859.77" width="3.56" height="14.37"/>
<rect x="1628.55" y="889.39" width="0.89" height="14.37"/>
<rect x="1628.55" y="919.02" width="0.89" height="14.37"/>
<rect x="1628.55" y="948.64" width="0.89" height="14.37"/>
<rect x="1628.55" y="978.27" width="0.89" height="14.37"/>
<rect x="1628.55" y="1007.89" width="220.83" height="14.37"/>
<rect x="1628.55" y="1037.52" width="1.78" height="14.37"/>
<rect x="1628.55" y="1067.14" width="0.89" height="14.37"/>
<rect x="1628.55" y="1096.77" width="2.67" height="14.37"/>
<rect x="1628.55" y="1126.39" width="19.59" height="14.37"/>
<rect x="1628.55" y="1156.02" width="0.89" height="14.37"/>
<rect x="1628.55" y="1185.64" width="6.23" height="14.37"/>
<rect x="1628.55" y="1215.26" width="18.7" height="14.37"/>
<rect x="1628.55" y="1244.89" width="0.89" height="14.37"/>
<rect x="1628.55" y="1274.51" width="1.78" height="14.37"/>
<rect x="1628.55" y="1304.14" width="132.68" height="14.37"/>
<rect x="1628.55" y="1333.76" width="3.56" height="14.37"/>
<rect x="1628.55" y="1363.39" width="0.89" height="14.37"/>
<rect x="1628.55" y="1393.01" width="4.45" height="14.37"/>
<rect x="1628.55" y="1422.64" width="24.04" height="14.37"/>
<rect x="1628.55" y="1452.26" width="0.89" height="14.37"/>
<rect x="1628.55" y="1481.89" width="7.12" height="14.37"/>
<rect x="1628.55" y="1511.51" width="167.4" height="14.37"/>
<rect x="1628.55" y="1541.14" width="3.56" height="14.37"/>
<rect x="1628.55" y="1570.76" width="1.78" height="14.37"/>
<rect x="1628.55" y="1600.39" width="88.15" height="14.37"/>
<rect x="1628.55" y="1630.01" width="2.67" height="14.37"/>
<rect x="1628.55" y="1659.63" width="1.78" height="14.37"/>
<rect x="1628.55" y="1689.26" width="2.67" height="14.37"/>
<rect x="1628.55" y="1718.88" width="1.78" height="14.37"/>
<rect x="1628.55" y="1748.51" width="1.78" height="14.37"/>
<rect x="1628.55" y="1778.13" width="1.78" height="14.37"/>
<rect x="1628.55" y="1807.76" width="142.47" height="14.37"/>
<rect x="1628.55" y="1837.38" width="1.78" height="14.37"/>
<rect x="1628.55" y="1867.01" width="7.12" height="14.37"/>
<rect x="1628.55" y="1896.63" width="0.89" height="14.37"/>
<rect x="1628.55" y="1926.26" width="1.78" height="14.37"/>
<rect x="1628.55" y="1955.88" width="0.89" height="14.37"/>
<rect x="1628.55" y="1985.51" width="5.34" height="14.37"/>
<rect x="1628.55" y="2015.13" width="8.01" height="14.37"/>
<rect x="1628.55" y="2044.76" width="36.51" height="14.37"/>
<rect x="1628.55" y="2074.38" width="141.58" height="14.37"/>
<rect x="1628.55" y="2104" width="0.89" height="14.37"/>
<rect x="1628.55" y="2133.63" width="11.58" height="14.37"/>
<rect x="1628.55" y="2163.25" width="2.67" height="14.37"/>
</g>
<path class="grid" d="M1717.59 22.3V2184.9M1806.64 22.3V2184.9M1895.68 22.3V2184.9M1984.73 22.3V2184.9M1628.55 37.46H2000.4M1628.55 67.09H2000.4M1628.55 96.71H2000.4M1628.55 126.34H2000.4M1628.55 155.96H2000.4M1628.55 185.59H2000.4M1628.55 215.21H2000.4M1628.55 244.83H2000.4M1628.55 274.46H2000.4M1628.55 304.08H2000.4M1628.55 333.71H2000.4M1628.55 363.33H2000.4M1628.55 392.96H2000.4M1628.55 422.58H2000.4M1628.55 452.21H2000.4M1628.55 481.83H2000.4M1628.55 511.46H2000.4M1628.55 541.08H2000.4M1628.55 570.71H2000.4M1628.55 600.33H2000.4M1628.55 629.96H2000.4M1628.55 659.58H2000.4M1628.55 689.2H2000.4M1628.55 718.83H2000.4M1628.55 748.45H2000.4M1628.55 778.08H2000.4M1628.55 807.7H2000.4M1628.55 837.33H2000.4M1628.55 866.95H2000.4M1628.55 896.58H2000.4M1628.55 926.2H2000.4M1628.55 955.83H2000.4M1628.55 985.45H2000.4M1628.55 1015.08H2000.4M1628.55 1044.7H2000.4M1628.55 1074.33H2000.4M1628.55 1103.95H2000.4M1628.55 1133.57H2000.4M1628.55 1163.2H2000.4M1628.55 1192.82H2000.4M1628.55 1222.45H2000.4M1628.55 1252.07H2000.4M1628.55 1281.7H2000.4M1628.55 1311.32H2000.4M1628.55 1340.95H2000.4M1628.55 1370.57H2000.4M1628.55 1400.2H2000.4M1628.55 1429.82H2000.4M1628.55 1459.45H2000.4M1628.55 1489.07H2000.4M1628.55 1518.7H2000.4M1628.55 1548.32H2000.4M1628.55 1577.94H2000.4M1628.55 1607.57H2000.4M1628.55 1637.19H2000.4M1628.55 1666.82H2000.4M1628.55 1696.44H2000.4M1628.55 1726.07H2000.4M1628.55 1755.69H2000.4M1628.55 1785.32H2000.4M1628.55 1814.94H2000.4M1628.55 1844.57H2000.4M1628.55 1874.19H2000.4M1628.55 1903.82H2000.4M1628.55 1933.44H2000.4M1628.55 1963.07H2000.4M1628.55 1992.69H2000.4M1628.55 2022.31H2000.4M1628.55 2051.94H2000.4M1628.55 2081.56H2000.4M1628.55 2111.19H2000.4M1628.55 2140.81H2000.4M1628.55 2170.44H2000.4"/>
<path class="gridbar" d="M1628.55 37.46H1631.22M1628.55 67.09H1714.92M1628.55 96.71H1845.82M1717.59 89.53V103.9M1806.64 89.53V103.9M1628.55 126.34H1629.44M1628.55 155.96H1630.33M1628.55 185.59H1630.33M1628.55 215.21H1634.78M1628.55 244.83H1632.11M1628.55 274.46H1630.33M1628.55 304.08H1631.22M1628.55 333.71H1633.89M1628.55 363.33H1633M1628.55 392.96H1649.03M1628.55 422.58H1629.44M1628.55 452.21H1631.22M1628.55 481.83H1629.44M1628.55 511.46H1629.44M1628.55 541.08H1635.67M1628.55 570.71H1630.33M1628.55 600.33H1630.33M1628.55 629.96H1639.24M1628.55 659.58H1629.44M1628.55 689.2H1629.44M1628.55 718.83H1632.11M1628.55 748.45H1938.43M1717.59 741.27V755.64M1806.64 741.27V755.64M1895.68 741.27V755.64M1628.55 778.08H1632.11M1628.55 807.7H1632.11M1628.55 837.33H1629.44M1628.55 866.95H1632.11M1628.55 896.58H1629.44M1628.55 926.2H1629.44M1628.55 955.83H1629.44M1628.55 985.45H1629.44M1628.55 1015.08H1849.38M1717.59 1007.89V1022.26M1806.64 1007.89V1022.26M1628.55 1044.7H1630.33M1628.55 1074.33H1629.44M1628.55 1103.95H1631.22M1628.55 1133.57H1648.14M1628.55 1163.2H1629.44M1628.55 1192.82H1634.78M1628.55 1222.45H1647.25M1628.55 1252.07H1629.44M1628.55 1281.7H1630.33M1628.55 1311.32H1761.23M1717.59 1304.14V1318.51M1628.55 1340.95H1632.11M1628.55 1370.57H1629.44M1628.55 1400.2H1633M1628.55 1429.82H1652.59M1628.55 1459.45H1629.44M1628.55 1489.07H1635.67M1628.55 1518.7H1795.95M1717.59 1511.51V1525.88M1628.55 1548.32H1632.11M1628.55 1577.94H1630.33M1628.55 1607.57H1716.7M1628.55 1637.19H1631.22M1628.55 1666.82H1630.33M1628.55 1696.44H1631.22M1628.55 1726.07H1630.33M1628.55 1755.69H1630.33M1628.55 1785.32H1630.33M1628.55 1814.94H1771.02M1717.59 1807.76V1822.13M1628.55 1844.57H1630.33M1628.55 1874.19H1635.67M1628.55 1903.82H1629.44M1628.55 1933.44H1630.33M1628.55 1963.07H1629.44M1628.55 1992.69H1633.89M1628.55 2022.31H1636.56M1628.55 2051.94H1665.06M1628.55 2081.56H1770.13M1717.59 2074.38V2088.75M1628.55 2111.19H1629.44M1628.55 2140.81H1640.13M1628.55 2170.44H1631.22"/>
<path class="xtick" d="M1628.55 2184.9v14.7M1717.59 2184.9v14.7M1806.64 2184.9v14.7M1895.68 2184.9v14.7M1984.73 2184.9v14.7"/>
<path class="tick" d="M1628.55 37.46h-14.7M1628.55 67.09h-14.7M1628.55 96.71h-14.7M1628.55 126.34h-14.7M1628.55 155.96h-14.7M1628.55 185.59h-14.7M1628.55 215.21h-14.7M1628.55 244.83h-14.7M1628.55 274.46h-14.7M1628.55 304.08h-14.7M1628.55 333.71h-14.7M1628.55 363.33h-14.7M1628.55 392.96h-14.7M1628.55 422.58h-14.7M1628.55 452.21h-14.7M1628.55 481.83h-14.7M1628.55 511.46h-14.7M1628.55 541.08h-14.7M1628.55 570.71h-14.7M1628.55 600.33h-14.7M1628.55 629.96h-14.7M1628.55 659.58h-14.7M1628.55 689.2h-14.7M1628.55 718.83h-14.7M1628.55 748.45h-14.7M1628.55 778.08h-14.7M1628.55 807.7h-14.7M1628.55 837.33h-14.7M1628.55 866.95h-14.7M1628.55 896.58h-14.7M1628.55 926.2h-14.7M1628.55 955.83h-14.7M1628.55 985.45h-14.7M1628.55 1015.08h-14.7M1628.55 1044.7h-14.7M1628.55 1074.33h-14.7M1628.55 1103.95h-14.7M1628.55 1133.57h-14.7M1628.55 1163.2h-14.7M1628.55 1192.82h-14.7M1628.55 1222.45h-14.7M1628.55 1252.07h-14.7M1628.55 1281.7h-14.7M1628.55 1311.32h-14.7M1628.55 1340.95h-14.7M1628.55 1370.57h-14.7M1628.55 1400.2h-14.7M1628.55 1429.82h-14.7M1628.55 1459.45h-14.7M1628.55 1489.07h-14.7M1628.55 1518.7h-14.7M1628.55 1548.32h-14.7M1628.55 1577.94h-14.7M1628.55 1607.57h-14.7M1628.55 1637.19h-14.7M1628.55 1666.82h-14.7M1628.55 1696.44h-14.7M1628.55 1726.07h-14.7M1628.55 1755.69h-14.7M1628.55 1785.32h-14.7M1628.55 1814.94h-14.7M1628.55 1844.57h-14.7M1628.55 1874.19h-14.7M1628.55 1903.82h-14.7M1628.55 1933.44h-14.7M1628.55 1963.07h-14.7M1628.55 1992.69h-14.7M1628.55 2022.31h-14.7M1628.55 2051.94h-14.7M1628.55 2081.56h-14.7M1628.55 2111.19h-14.7M1628.55 2140.81h-14.7M1628.55 2170.44h-14.7"/>
<rect class="spine" x="1628.55" y="22.3" width="371.85" height="2162.6"/>
<g class="val" transform="scale(1,1.03)">
<text x="1635.32" y="41.91">3</text>
<text x="1719.02" y="70.67">97</text>
<text x="1849.92" y="99.43">244</text>
<text x="1633.54" y="128.19">1</text>
<text x="1634.43" y="156.95">2</text>
<text x="1634.43" y="185.71">2</text>
<text x="1638.88" y="214.48">7</text>
<text x="1636.21" y="243.24">4</text>
<text x="1634.43" y="272">2</text>
<text x="1635.32" y="300.76">3</text>
<text x="1637.99" y="329.52">6</text>
<text x="1637.1" y="358.29">5</text>
<text x="1653.13" y="387.05">23</text>
<text x="1633.54" y="415.81">1</text>
<text x="1635.32" y="444.57">3</text>
<text x="1633.54" y="473.33">1</text>
<text x="1633.54" y="502.09">1</text>
<text x="1639.77" y="530.86">8</text>
<text x="1634.43" y="559.62">2</text>
<text x="1634.43" y="588.38">2</text>
<text x="1643.34" y="617.14">12</text>
<text x="1633.54" y="645.9">1</text>
<text x="1633.54" y="674.66">1</text>
<text x="1636.21" y="703.43">4</text>
<text x="1942.53" y="732.19">348</text>
<text x="1636.21" y="760.95">4</text>
<text x="1636.21" y="789.71">4</text>
<text x="1633.54" y="818.47">1</text>
<text x="1636.21" y="847.24">4</text>
<text x="1633.54" y="876">1</text>
<text x="1633.54" y="904.76">1</text>
<text x="1633.54" y="933.52">1</text>
<text x="1633.54" y="962.28">1</text>
<text x="1853.48" y="991.04">248</text>
<text x="1634.43" y="1019.81">2</text>
<text x="1633.54" y="1048.57">1</text>
<text x="1635.32" y="1077.33">3</text>
<text x="1652.24" y="1106.09">22</text>
<text x="1633.54" y="1134.85">1</text>
<text x="1638.88" y="1163.62">7</text>
<text x="1651.35" y="1192.38">21</text>
<text x="1633.54" y="1221.14">1</text>
<text x="1634.43" y="1249.9">2</text>
<text x="1765.33" y="1278.66">149</text>
<text x="1636.21" y="1307.42">4</text>
<text x="1633.54" y="1336.19">1</text>
<text x="1637.1" y="1364.95">5</text>
<text x="1656.69" y="1393.71">27</text>
<text x="1633.54" y="1422.47">1</text>
<text x="1639.77" y="1451.23">8</text>
<text x="1800.05" y="1480">188</text>
<text x="1636.21" y="1508.76">4</text>
<text x="1634.43" y="1537.52">2</text>
<text x="1720.8" y="1566.28">99</text>
<text x="1635.32" y="1595.04">3</text>
<text x="1634.43" y="1623.8">2</text>
<text x="1635.32" y="1652.57">3</text>
<text x="1634.43" y="1681.33">2</text>
<text x="1634.43" y="1710.09">2</text>
<text x="1634.43" y="1738.85">2</text>
<text x="1775.12" y="1767.61">160</text>
<text x="1634.43" y="1796.38">2</text>
<text x="1639.77" y="1825.14">8</text>
<text x="1633.54" y="1853.9">1</text>
<text x="1634.43" y="1882.66">2</text>
<text x="1633.54" y="1911.42">1</text>
<text x="1637.99" y="1940.18">6</text>
<text x="1640.66" y="1968.95">9</text>
<text x="1669.16" y="1997.71">41</text>
<text x="1774.23" y="2026.47">159</text>
<text x="1633.54" y="2055.23">1</text>
<text x="1644.23" y="2083.99">13</text>
<text x="1635.32" y="2112.76">3</text>
</g>
<g class="ylab">
<text x="1599.05" y="44.76">Algerian</text>
<text x="1599.05" y="74.39">American</text>
<text x="1599.05" y="104.01">Angolan</text>
<text x="1599.05" y="133.64">Anguillan</text>
<text x="1599.05" y="163.26">Argentine</text>
<text x="1599.05" y="192.89">Australian</text>
<text x="1599.05" y="222.51">Brazilian</text>
<text x="1599.05" y="252.13">British</text>
<text x="1599.05" y="281.76">Bulgarian</text>
<text x="1599.05" y="311.38">Cameroonian</text>
<text x="1599.05" y="341.01">Canadian</text>
<text x="1599.05" y="370.63">Chinese</text>
<text x="1599.05" y="400.26">Colombian</text>
<text x="1599.05" y="429.88">Congolese (DRC)</text>
<text x="1599.05" y="459.51">Danish</text>
<text x="1599.05" y="489.13">Dominican</text>
<text x="1599.05" y="518.76">Citizen of the Dominican Republic</text>
<text x="1599.05" y="548.38">Dutch</text>
<text x="1599.05" y="578.01">Ecuadorean</text>
<text x="1599.05" y="607.63">Egyptian</text>
<text x="1599.05" y="637.26">English</text>
<text x="1599.05" y="666.88">Eritrean</text>
<text x="1599.05" y="696.5">Ethiopian</text>
<text x="1599.05" y="726.13">Fijian</text>
<text x="1599.05" y="755.75">Filipino</text>
<text x="1599.05" y="785.38">French</text>
<text x="1599.05" y="815">German</text>
<text x="1599.05" y="844.63">Ghanaian</text>
<text x="1599.05" y="874.25">Greek</text>
<text x="1599.05" y="903.88">Haitian</text>
<text x="1599.05" y="933.5">Honduran</text>
<text x="1599.05" y="963.13">Hungarian</text>
<text x="1599.05" y="992.75">Icelandic</text>
<text x="1599.05" y="1022.38">Indian</text>
<text x="1599.05" y="1052">Indonesian</text>
<text x="1599.05" y="1081.63">Iraqi</text>
<text x="1599.05" y="1111.25">Irish</text>
<text x="1599.05" y="1140.87">Italian</text>
<text x="1599.05" y="1170.5">Ivorian</text>
<text x="1599.05" y="1200.12">Jamaican</text>
<text x="1599.05" y="1229.75">Japanese</text>
<text x="1599.05" y="1259.37">Jordanian</text>
<text x="1599.05" y="1289">Kazakh</text>
<text x="1599.05" y="1318.62">Kenyan</text>
<text x="1599.05" y="1348.25">Lithuanian</text>
<text x="1599.05" y="1377.87">Malaysian</text>
<text x="1599.05" y="1407.5">Mexican</text>
<text x="1599.05" y="1437.12">Moroccan</text>
<text x="1599.05" y="1466.75">Nepalese</text>
<text x="1599.05" y="1496.37">New Zealander</text>
<text x="1599.05" y="1526">Nigerian</text>
<text x="1599.05" y="1555.62">Nigerien</text>
<text x="1599.05" y="1585.24">Norwegian</text>
<text x="1599.05" y="1614.87">Pakistani</text>
<text x="1599.05" y="1644.49">Portuguese</text>
<text x="1599.05" y="1674.12">Puerto Rican</text>
<text x="1599.05" y="1703.74">Romanian</text>
<text x="1599.05" y="1733.37">Rwandan</text>
<text x="1599.05" y="1762.99">Slovak</text>
<text x="1599.05" y="1792.62">Somali</text>
<text x="1599.05" y="1822.24">South African</text>
<text x="1599.05" y="1851.87">South Korean</text>
<text x="1599.05" y="1881.49">Spanish</text>
<text x="1599.05" y="1911.12">Swedish</text>
<text x="1599.05" y="1940.74">Tanzanian</text>
<text x="1599.05" y="1970.37">Tunisian</text>
<text x="1599.05" y="1999.99">Ugandan</text>
<text x="1599.05" y="2029.61">Ukrainian</text>
<text x="1599.05" y="2059.24">Venezuelan</text>
<text x="1599.05" y="2088.86">Vietnamese</text>
<text x="1599.05" y="2118.49">Zambian</text>
<text x="1599.05" y="2148.11">Zimbabwean</text>
<text x="1599.05" y="2177.74">Not listed</text>
</g>
<g class="xlab" transform="scale(1,1.03)">
<text x="1628.55" y="2164.37">0</text>
<text x="1717.59" y="2164.37">100</text>
<text x="1806.64" y="2164.37">200</text>
<text x="1895.68" y="2164.37">300</text>
<text x="1984.73" y="2164.37">400</text>
</g>
<g class="xlab">
<text x="1814.47" y="2250.2">Number of subjects</text>
<text x="1814.47" y="17.7">Distribution for nationality</text>
</g>
</g>
</svg>
</body>
</html>
